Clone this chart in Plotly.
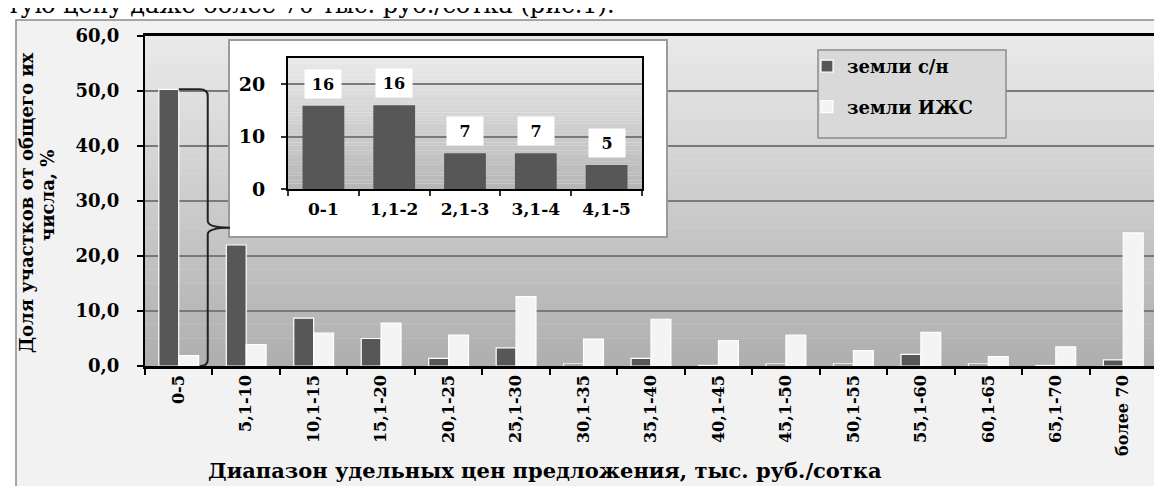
import plotly.graph_objects as go

# ---------------- data ----------------
categories = ["0-5", "5,1-10", "10,1-15", "15,1-20", "20,1-25", "25,1-30", "30,1-35",
              "35,1-40", "40,1-45", "45,1-50", "50,1-55", "55,1-60", "60,1-65",
              "65,1-70", "более 70"]
agri_land = [50.3, 22.0, 8.7, 5.0, 1.4, 3.3, 0.4, 1.4, 0.1, 0.4, 0.4, 2.1, 0.4, 0.1, 1.1]
izhs_land = [1.9, 3.9, 6.0, 7.8, 5.6, 12.6, 4.9, 8.5, 4.6, 5.6, 2.8, 6.1, 1.7, 3.5, 24.2]

inset_categories = ["0-1", "1,1-2", "2,1-3", "3,1-4", "4,1-5"]
inset_values = [15.9, 16.0, 6.8, 6.8, 4.6]

series_names = ["земли с/н", "земли ИЖС"]
y_title_lines = ["Доля участков от общего их", "числа, %"]
x_title = "Диапазон удельных цен предложения, тыс. руб./сотка"
top_text = "тую цену даже более 70 тыс. руб./сотка (рис.1)."

YMAX = 60
INSET_YMAX = 25

# ---------------- style ----------------
W, H = 1162, 486
L, R, T, B = 137, 1149, 28, 358
FONT = "DejaVu Serif"
DARK = "#575757"
LIGHT = "#f4f4f4"


def px(x):
    return (x - L) / (R - L)


def py(y):
    return (B - y) / (B - T)


def mix(c0, c1, t):
    return "rgb(%d,%d,%d)" % tuple(round(a + (b - a) * t) for a, b in zip(c0, c1))


fig = go.Figure()

fig.add_trace(go.Bar(x=categories, y=agri_land, name=series_names[0], legendgroup="a",
                     marker=dict(color=DARK, line=dict(color="white", width=1.2))))
fig.add_trace(go.Bar(x=categories, y=izhs_land, name=series_names[1], legendgroup="b",
                     marker=dict(color=LIGHT, line=dict(color="white", width=1.2))))

# white box subplot (inset chart area)
fig.add_trace(go.Scatter(x=[None], y=[None], xaxis="x2", yaxis="y2", showlegend=False,
                         hoverinfo="skip"))
# inset bars
fig.add_trace(go.Bar(x=inset_categories, y=inset_values, xaxis="x3", yaxis="y3",
                     showlegend=False, marker=dict(color=DARK, line=dict(width=0))))

shapes = []
# outer chart frame
shapes.append(dict(type="rect", xref="paper", yref="paper", layer="below",
                   x0=px(8), x1=px(1161), y0=py(481), y1=py(12),
                   fillcolor="#f2f2f2", line=dict(color="#8a8a8a", width=1.5)))
# main plot gradient background
N = 48
for i in range(N):
    t = (i + 0.5) / N
    shapes.append(dict(type="rect", xref="x", yref="y", layer="below",
                       x0=-0.5, x1=len(categories) - 0.5,
                       y0=YMAX * i / N, y1=YMAX * (i + 1) / N + 0.05,
                       fillcolor=mix((174, 174, 174), (234, 234, 234), t),
                       line=dict(width=0)))
# inset gradient background
for i in range(N):
    t = (i + 0.5) / N
    shapes.append(dict(type="rect", xref="x3", yref="y3", layer="below",
                       x0=-0.5, x1=len(inset_categories) - 0.5,
                       y0=INSET_YMAX * i / N, y1=INSET_YMAX * (i + 1) / N + 0.03,
                       fillcolor=mix((182, 182, 182), (234, 234, 234), t),
                       line=dict(width=0)))
# legend box
shapes.append(dict(type="rect", xref="paper", yref="paper", layer="above",
                   x0=px(810), x1=px(998), y0=py(130), y1=py(42),
                   fillcolor="#d9d9d9", line=dict(color="#8c8c8c", width=1.5)))
# brace linking the first bar with the inset
top = agri_land[0]
mid = top / 2
xb, r, xt, dy = 0.43, 0.12, 0.76, 1.2
brace = (f"M 0,{top} L {xb - r},{top} Q {xb},{top} {xb},{top - dy} "
         f"L {xb},{mid + dy} Q {xb},{mid} {xt},{mid} Q {xb},{mid} {xb},{mid - dy} "
         f"L {xb},{dy} Q {xb},0 {xb - r},0")
shapes.append(dict(type="path", xref="x", yref="y", layer="above", path=brace,
                   line=dict(color="#222222", width=2)))

annotations = []
annotations.append(dict(xref="paper", yref="paper", x=px(-3), y=py(-3), xanchor="left",
                        yanchor="middle", text=top_text, showarrow=False,
                        font=dict(family=FONT, size=24, color="black")))
annotations.append(dict(xref="paper", yref="paper", x=px(537), y=py(462), xanchor="center",
                        yanchor="middle", text=x_title, showarrow=False,
                        font=dict(family=FONT, size=21, color="black", weight="bold")))
annotations.append(dict(xref="paper", yref="paper", x=px(18), y=py(195), xanchor="center",
                        yanchor="middle", text=y_title_lines[0], textangle=-90,
                        showarrow=False,
                        font=dict(family=FONT, size=18, color="black", weight="bold")))
annotations.append(dict(xref="paper", yref="paper", x=px(39), y=py(188), xanchor="center",
                        yanchor="middle", text=y_title_lines[1], textangle=-90,
                        showarrow=False,
                        font=dict(family=FONT, size=18, color="black", weight="bold")))
for c, v in zip(inset_categories, inset_values):
    annotations.append(dict(xref="x3", yref="y3", x=c, y=v, yshift=22, text=f"{v:.0f}",
                            showarrow=False, bgcolor="white", width=32, height=24,
                            borderpad=2,
                            font=dict(family=FONT, size=16, color="black", weight="bold")))

axis_common = dict(showline=True, mirror=True, linecolor="black", zeroline=False)

fig.update_layout(
    width=W, height=H, autosize=False,
    margin=dict(l=L, r=W - R, t=T, b=H - B, pad=0),
    paper_bgcolor="white", plot_bgcolor="white",
    separators=", ",
    barmode="group", bargap=0.41, bargroupgap=0,
    showlegend=True,
    legend=dict(x=px(799), y=py(40), xanchor="left", yanchor="top",
                bgcolor="rgba(0,0,0,0)", borderwidth=0, traceorder="grouped",
                tracegroupgap=14,
                font=dict(family=FONT, size=18, color="black", weight="bold")),
    xaxis=dict(domain=[0, 1], type="category", range=[-0.5, len(categories) - 0.5],
               tickangle=-90, ticks="outside", ticklen=6, tickwidth=2, tickcolor="black",
               tickson="boundaries", linewidth=2.5, showgrid=False,
               tickfont=dict(family=FONT, size=16, color="black", weight="bold"),
               **axis_common),
    yaxis=dict(domain=[0, 1], range=[0, YMAX], dtick=10, tickformat=".1f",
               ticks="outside", ticklen=6, tickwidth=2, tickcolor="black",
               ticklabelstandoff=14, linewidth=2,
               showgrid=True, gridcolor="#7a7a7a", gridwidth=1.5,
               tickfont=dict(family=FONT, size=18, color="black", weight="bold"),
               **axis_common),
    xaxis2=dict(domain=[px(222), px(658)], anchor="y2", range=[0, 1], showline=True,
                mirror=True, linecolor="#9a9a9a", linewidth=1.5, showgrid=False,
                zeroline=False, showticklabels=False, ticks=""),
    yaxis2=dict(domain=[py(228), py(33)], anchor="x2", range=[0, 1], showline=True,
                mirror=True, linecolor="#9a9a9a", linewidth=1.5, showgrid=False,
                zeroline=False, showticklabels=False, ticks=""),
    xaxis3=dict(domain=[px(280), px(634)], anchor="y3", type="category",
                range=[-0.5, len(inset_categories) - 0.5],
                ticks="outside", ticklen=5, tickwidth=1.5, tickcolor="#333",
                tickson="boundaries", linewidth=2, showgrid=False, ticklabelstandoff=4,
                tickfont=dict(family=FONT, size=17, color="black", weight="bold"),
                **axis_common),
    yaxis3=dict(domain=[py(181), py(50)], anchor="x3", range=[0, INSET_YMAX],
                tickvals=[0, 10, 20], ticks="outside", ticklen=5, tickwidth=1.5,
                tickcolor="#333", linewidth=2, showgrid=True, gridcolor="#7a7a7a",
                gridwidth=1.5, ticklabelstandoff=12,
                tickfont=dict(family=FONT, size=19, color="black", weight="bold"),
                **axis_common),
    shapes=shapes,
    annotations=annotations,
)

fig.write_html("out.html")
